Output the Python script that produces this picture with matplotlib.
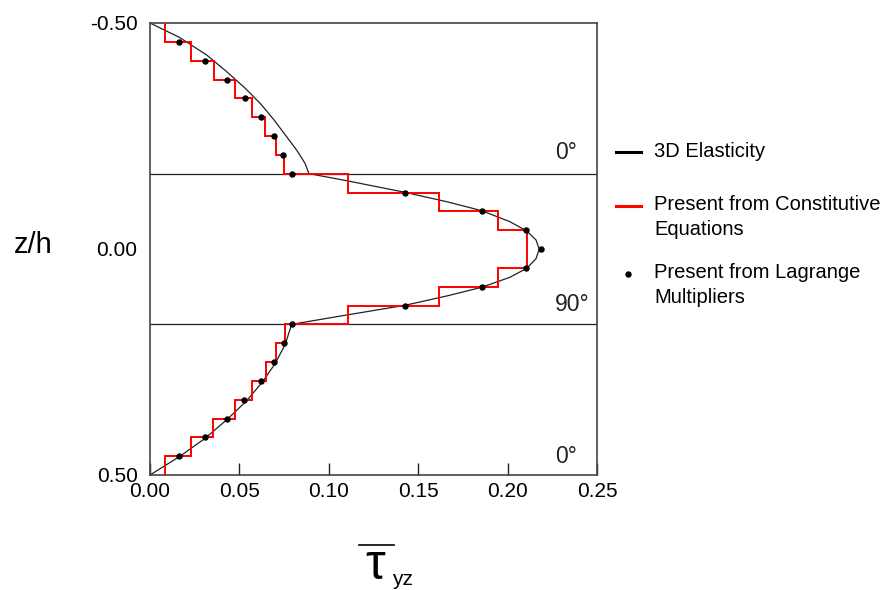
import numpy as np
import matplotlib
matplotlib.use("Agg")
import matplotlib.pyplot as plt
from matplotlib.lines import Line2D

plt.rcParams.update({
    "font.family": ["Liberation Sans", "DejaVu Sans"],
    "axes.unicode_minus": False,
})

# 3D elasticity solution: through-thickness shear stress profile (x = tau_yz, z = z/h)
elast_tau = [0.0, 0.0164, 0.0317, 0.0429, 0.0533, 0.0621, 0.0694, 0.0764, 0.0820, 0.0867, 0.0889,
             0.1100, 0.1426, 0.1659, 0.1855, 0.2013, 0.2107, 0.2159, 0.2177, 0.2159, 0.2107,
             0.2013, 0.1855, 0.1659, 0.1426, 0.1100, 0.0792,
             0.0757, 0.0701, 0.0630, 0.0541, 0.0432, 0.0308, 0.0164, 0.0]
elast_z = [-0.5, -0.4683, -0.4292, -0.3923, -0.3555, -0.3201, -0.2854, -0.2485, -0.219, -0.1896, -0.1667,
           -0.1511, -0.1254, -0.1047, -0.0848, -0.0604, -0.0398, -0.0199, 0.0, 0.0214, 0.0427,
           0.0626, 0.0847, 0.1040, 0.1246, 0.1460, 0.1667,
           0.2102, 0.2529, 0.2935, 0.3356, 0.3768, 0.4189, 0.4595, 0.5]

# layerwise-constant values from the constitutive equations (24 sublayers)
sub_edges = np.linspace(-0.5, 0.5, 25)
const_tau = [0.0084, 0.0229, 0.0358, 0.0475, 0.0569, 0.0645, 0.0705, 0.0749,
             0.1106, 0.1618, 0.1948, 0.2107, 0.2107, 0.1948, 0.1618, 0.1106,
             0.0755, 0.0705, 0.0649, 0.0569, 0.0475, 0.0354, 0.0229, 0.0084]

# Lagrange multiplier values at the sublayer interfaces
lag_z = sub_edges[1:-1]
lag_tau = [0.0164, 0.0308, 0.0429, 0.0533, 0.0621, 0.0694, 0.0742, 0.0792,
           0.1426, 0.1855, 0.2103, 0.2185, 0.2103, 0.1855, 0.1426, 0.0792,
           0.0749, 0.0694, 0.0621, 0.0527, 0.0429, 0.0308, 0.0164]

ply_interfaces = [-1 / 6, 1 / 6]
ply_labels = ["0°", "90°", "0°"]
ply_label_z = [-0.2146, 0.1217, 0.458]

xticks = [0.0, 0.05, 0.10, 0.15, 0.20, 0.25]
yticks = [-0.5, 0.0, 0.5]
ytick_labels = ["-0.50", "0.00", "0.50"]

W, H = 890, 590


def fx(px):
    return px / W


def fy(py):
    return 1 - py / H


fig = plt.figure(figsize=(8.9, 5.9), dpi=100)
ax = fig.add_axes([fx(150), fy(475), 447 / W, 452 / H])

for z in ply_interfaces:
    ax.axhline(z, color="#222222", lw=0.9, zorder=1)

ax.plot(elast_tau, elast_z, color="#222222", lw=0.9, zorder=2)
ax.stairs(const_tau, sub_edges, orientation="horizontal", baseline=None,
          color="#ff0000", lw=1.4, zorder=3)
ax.plot(lag_tau, lag_z, "o", color="black", ms=3.6, zorder=4)

for lab, z in zip(ply_labels, ply_label_z):
    ax.text(0.2265, z, lab, ha="left", va="center", fontsize=16.5, color="#222222")

ax.set_xlim(0, 0.25)
ax.set_ylim(0.5, -0.5)
ax.set_xticks(xticks)
ax.set_xticklabels([f"{t:.2f}" for t in xticks])
ax.set_yticks(yticks)
ax.set_yticklabels(ytick_labels)
ax.tick_params(axis="x", direction="in", length=9, width=1, pad=5, labelsize=15,
               color="#222222")
ax.tick_params(axis="y", length=0, pad=9, labelsize=15)
for sp in ax.spines.values():
    sp.set_color("#444444")
    sp.set_linewidth(1.2)

fig.text(fx(33), fy(253), "z/h", ha="center", va="baseline", fontsize=21)

# overbar tau_yz axis label
fig.text(fx(375), fy(589), "τ", ha="center", va="bottom", fontsize=36)
fig.text(fx(392), fy(589), "yz", ha="left", va="bottom", fontsize=15)
fig.add_artist(Line2D([fx(359), fx(394)], [fy(545)] * 2, color="black", lw=1.2))

# legend, one row per entry with the symbol next to the first text line
leg_rows = [
    (152, 152, "3D Elasticity",
     dict(color="black", lw=2.2)),
    (206, 217, "Present from Constitutive\nEquations",
     dict(color="#ff0000", lw=2.2)),
    (274, 285, "Present from Lagrange\nMultipliers",
     dict(color="black", ls="none", marker="o", ms=3.6)),
]
for y_sym, y_txt, label, style in leg_rows:
    if style.get("marker"):
        fig.add_artist(Line2D([fx(628)], [fy(y_sym)], **style))
    else:
        fig.add_artist(Line2D([fx(616), fx(641)], [fy(y_sym)] * 2, **style))
    fig.text(fx(654), fy(y_txt), label, ha="left", va="center", fontsize=14.5,
             linespacing=1.38)

fig.savefig("out.png", dpi=100)
